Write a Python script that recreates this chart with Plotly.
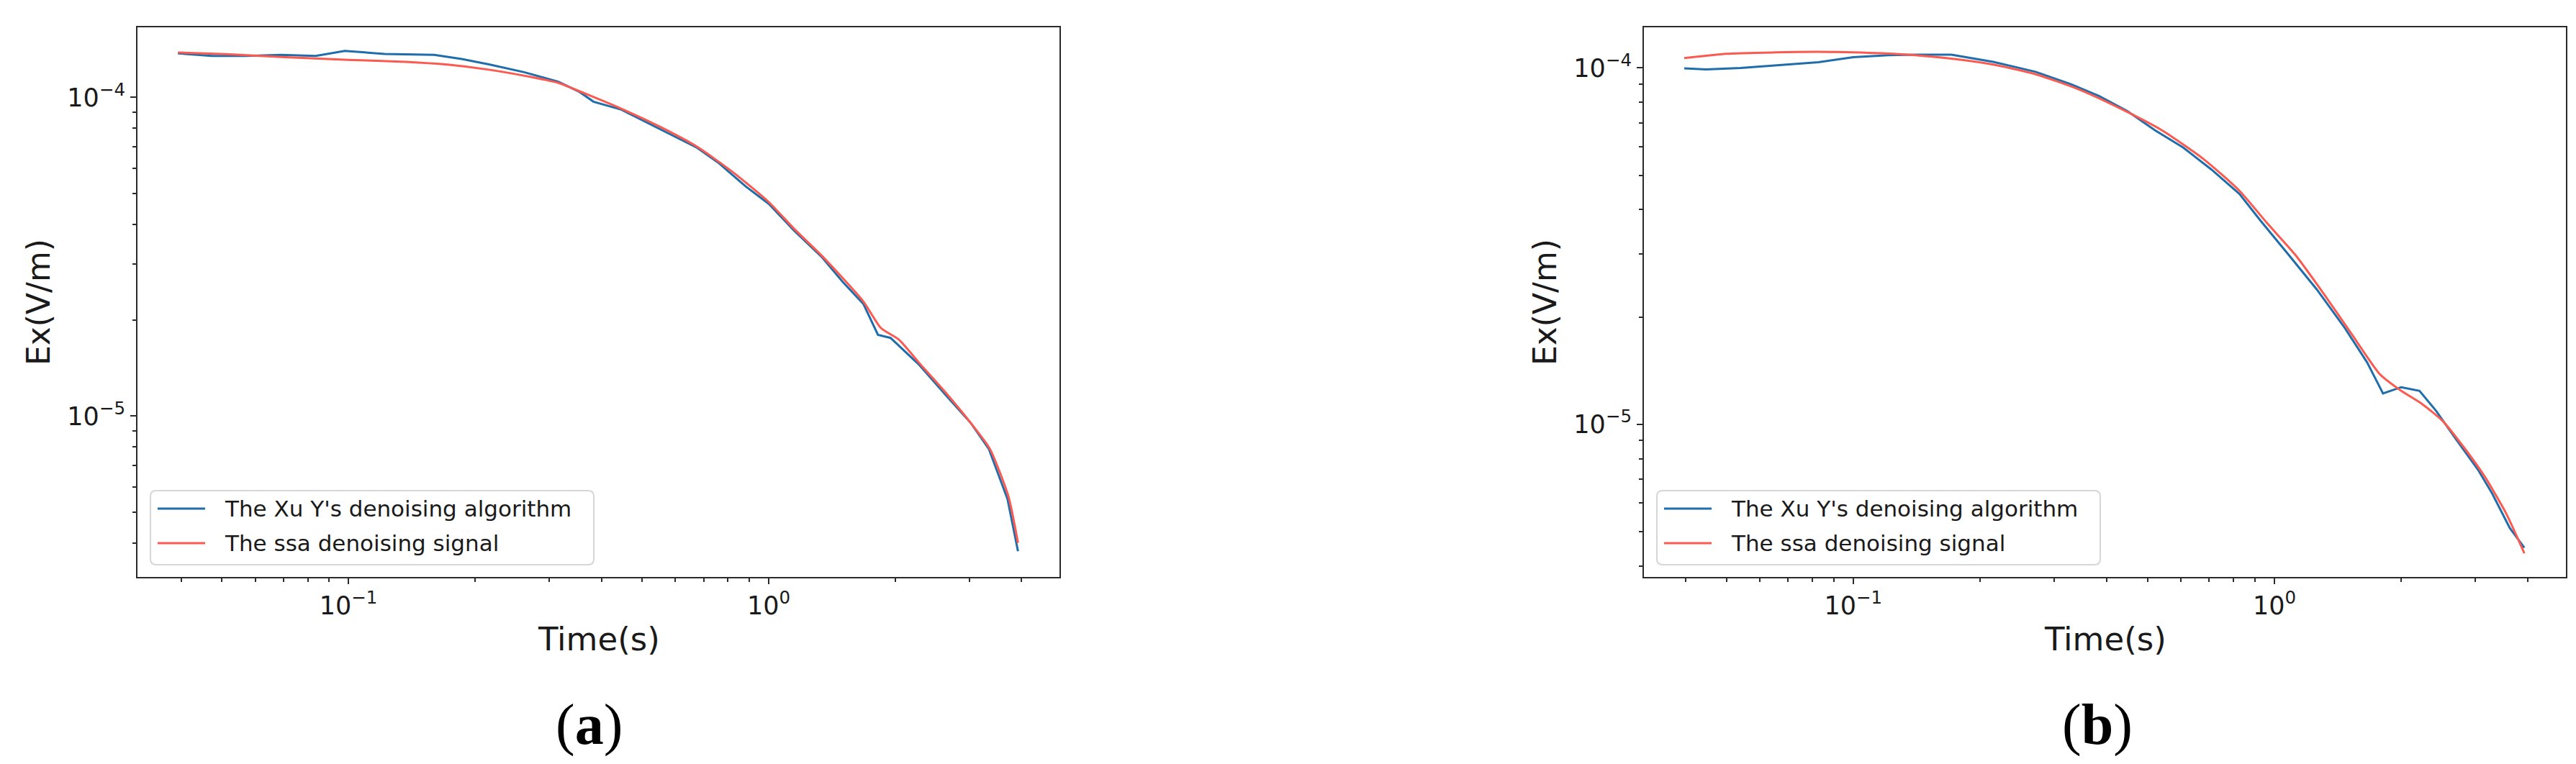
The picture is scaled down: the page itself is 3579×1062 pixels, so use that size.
import numpy as np
import plotly.graph_objects as go

# ---------------- data ----------------
# panel (a)
t_a_xu = [0.0393, 0.0473, 0.0572, 0.0692, 0.0836, 0.0980, 0.122, 0.160, 0.186, 0.216,
          0.262, 0.316, 0.355, 0.383, 0.446, 0.560, 0.676, 0.758, 0.883, 1.0,
          1.15, 1.34, 1.50, 1.68, 1.82, 1.95, 2.28, 2.66, 3.03, 3.34, 3.70, 3.92]
ex_a_xu = [1.375e-4, 1.35e-4, 1.35e-4, 1.36e-4, 1.35e-4, 1.40e-4, 1.37e-4, 1.36e-4, 1.32e-4, 1.27e-4,
           1.20e-4, 1.12e-4, 1.04e-4, 0.97e-4, 0.916e-4, 0.787e-4, 0.695e-4, 0.625e-4, 0.525e-4, 0.464e-4,
           0.382e-4, 0.315e-4, 0.264e-4, 0.225e-4, 0.180e-4, 0.176e-4, 0.145e-4, 0.115e-4, 0.095e-4, 0.079e-4,
           0.055e-4, 0.0377e-4]

t_a_ssa = [0.0393, 0.0511, 0.0692, 0.1, 0.137, 0.172, 0.216, 0.272, 0.316, 0.368,
           0.446, 0.560, 0.676, 0.819, 1.0, 1.15, 1.34, 1.68, 1.85, 2.04,
           2.28, 2.66, 3.03, 3.36, 3.72, 3.92]
ex_a_ssa = [1.383e-4, 1.368e-4, 1.34e-4, 1.312e-4, 1.294e-4, 1.268e-4, 1.222e-4, 1.159e-4, 1.111e-4, 1.025e-4,
            0.922e-4, 0.801e-4, 0.700e-4, 0.585e-4, 0.470e-4, 0.387e-4, 0.318e-4, 0.229e-4, 0.189e-4, 0.174e-4,
            0.147e-4, 0.117e-4, 0.095e-4, 0.079e-4, 0.056e-4, 0.040e-4]

# panel (b)
t_b_xu = [0.0397, 0.0447, 0.054, 0.068, 0.0826, 0.1, 0.121, 0.141, 0.171, 0.215,
          0.271, 0.329, 0.383, 0.447, 0.521, 0.607, 0.708, 0.826, 0.926, 1.08,
          1.26, 1.47, 1.66, 1.81, 2.0, 2.21, 2.42, 2.71, 3.04, 3.29, 3.62, 3.92]
ex_b_xu = [0.997e-4, 0.99e-4, 1.0e-4, 1.022e-4, 1.038e-4, 1.072e-4, 1.086e-4, 1.09e-4, 1.09e-4, 1.04e-4,
           0.975e-4, 0.90e-4, 0.834e-4, 0.757e-4, 0.668e-4, 0.598e-4, 0.519e-4, 0.443e-4, 0.373e-4, 0.299e-4,
           0.239e-4, 0.186e-4, 0.149e-4, 0.122e-4, 0.127e-4, 0.124e-4, 0.109e-4, 0.090e-4, 0.0746e-4, 0.0638e-4,
           0.0511e-4, 0.045e-4]

t_b_ssa = [0.0397, 0.050, 0.0656, 0.0826, 0.1, 0.131, 0.171, 0.215, 0.271, 0.341,
           0.430, 0.541, 0.681, 0.826, 0.962, 1.12, 1.31, 1.52, 1.78, 2.0,
           2.24, 2.51, 2.82, 3.16, 3.55, 3.92]
ex_b_ssa = [1.066e-4, 1.096e-4, 1.106e-4, 1.11e-4, 1.106e-4, 1.092e-4, 1.062e-4, 1.022e-4, 0.96e-4, 0.873e-4,
            0.77e-4, 0.668e-4, 0.553e-4, 0.452e-4, 0.366e-4, 0.299e-4, 0.232e-4, 0.180e-4, 0.138e-4, 0.124e-4,
            0.114e-4, 0.102e-4, 0.0859e-4, 0.0711e-4, 0.0561e-4, 0.0434e-4]

series_names = ["The Xu Y's denoising algorithm", "The ssa denoising signal"]
x_tick_vals = [0.1, 1]
x_tick_text = ["10<sup>\u22121</sup>", "10<sup>0</sup>"]
y_tick_vals = [1e-5, 1e-4]
y_tick_text = ["10<sup>\u22125</sup>", "10<sup>\u22124</sup>"]
x_title = "Time(s)"
y_title = "Ex(V/m)"
captions = ["a", "b"]

# ---------------- styling / layout ----------------
W, H = 3579, 1062
BLUE = "#1f6eab"
RED = "#fa5a50"
AX = "#2b2b2b"
TXT = "#1a1a1a"
FONT = "DejaVu Sans"


def px(x):
    return x / W


def py(y):
    return 1 - y / H


minor_vals = [k * 10.0 ** e for e in range(-7, 2) for k in range(2, 10)]

fig = go.Figure()
panels = [
    dict(xa="x", ya="y", data=[(t_a_xu, ex_a_xu), (t_a_ssa, ex_a_ssa)]),
    dict(xa="x2", ya="y2", data=[(t_b_xu, ex_b_xu), (t_b_ssa, ex_b_ssa)]),
]
for p in panels:
    for (tx, ey), col, nm, shp in zip(p["data"], [BLUE, RED], series_names, ["linear", "spline"]):
        line = dict(color=col, width=3, shape=shp)
        if shp == "spline":
            line["smoothing"] = 0.6
        fig.add_trace(go.Scatter(x=tx, y=ey, mode="lines", name=nm, line=line,
                                 xaxis=p["xa"], yaxis=p["ya"], showlegend=False))

common = dict(type="log", showline=True, mirror=True, linecolor=AX, linewidth=2,
              ticks="outside", ticklen=8, tickwidth=2, tickcolor=AX,
              showgrid=False, zeroline=False, tickmode="array",
              tickfont=dict(family=FONT, size=35, color=TXT),
              minor=dict(ticks="outside", ticklen=5, tickwidth=1.5, tickcolor=AX,
                         tickmode="array", tickvals=minor_vals, showgrid=False))

dom_a = [px(183), px(1464)]
dom_b = [px(2276), px(3557)]
dom_y = [py(794), py(30)]

fig.update_layout(
    width=W, height=H, margin=dict(l=0, r=0, t=0, b=0),
    paper_bgcolor="white", plot_bgcolor="white", showlegend=False,
    xaxis=dict(common, domain=dom_a, anchor="y", range=[-1.502, 0.692],
               tickvals=x_tick_vals, ticktext=x_tick_text),
    yaxis=dict(common, domain=dom_y, anchor="x", range=[-5.5045, -3.780],
               tickvals=y_tick_vals, ticktext=y_tick_text),
    xaxis2=dict(common, domain=dom_b, anchor="y2", range=[-1.497, 0.692],
                tickvals=x_tick_vals, ticktext=x_tick_text),
    yaxis2=dict(common, domain=dom_y, anchor="x2", range=[-5.429, -3.886],
                tickvals=y_tick_vals, ticktext=y_tick_text),
)

annotations = []
shapes = []
for i, (xa, ya, left, cap_x) in enumerate([("x", "y", 183, 810), ("x2", "y2", 2276, 2906)]):
    # axis titles
    annotations.append(dict(text=x_title, xref=f"{xa} domain", x=0.5, yref="paper", y=py(880),
                            xanchor="center", yanchor="middle", showarrow=False,
                            font=dict(family=FONT, size=45, color=TXT)))
    annotations.append(dict(text=y_title, xref="paper", x=px(left - 138), yref=f"{ya} domain", y=0.5,
                            xanchor="center", yanchor="middle", textangle=-90, showarrow=False,
                            font=dict(family=FONT, size=44, color=TXT)))
    # caption
    annotations.append(dict(text=f"(<b>{captions[i]}</b>)", xref="paper", x=px(cap_x), yref="paper",
                            y=py(999), xanchor="center", yanchor="middle", showarrow=False,
                            font=dict(family="Liberation Serif", size=80, color="black")))
    # legend box (rounded)
    bx0, bx1 = left + 18, left + 634
    by0, by1 = 674, 777
    r = 8
    rx, ry = r / W, r / H
    X0, X1, Y0, Y1 = px(bx0), px(bx1), py(by1), py(by0)
    path = (f"M{X0+rx},{Y0} L{X1-rx},{Y0} Q{X1},{Y0} {X1},{Y0+ry} L{X1},{Y1-ry} "
            f"Q{X1},{Y1} {X1-rx},{Y1} L{X0+rx},{Y1} Q{X0},{Y1} {X0},{Y1-ry} "
            f"L{X0},{Y0+ry} Q{X0},{Y0} {X0+rx},{Y0} Z")
    shapes.append(dict(type="path", path=path, xref="paper", yref="paper",
                       line=dict(color="#d6d6d6", width=2), fillcolor="rgba(255,255,255,0.85)"))
    for j, (col, nm, yy) in enumerate(zip([BLUE, RED], series_names, [699, 747])):
        shapes.append(dict(type="line", xref="paper", yref="paper",
                           x0=px(left + 28), x1=px(left + 94), y0=py(yy), y1=py(yy),
                           line=dict(color=col, width=3)))
        annotations.append(dict(text=nm, xref="paper", x=px(left + 119), yref="paper", y=py(yy),
                                xanchor="left", yanchor="middle", showarrow=False,
                                font=dict(family=FONT, size=31, color=TXT)))

fig.update_layout(annotations=annotations, shapes=shapes)
fig.write_html("out.html")
